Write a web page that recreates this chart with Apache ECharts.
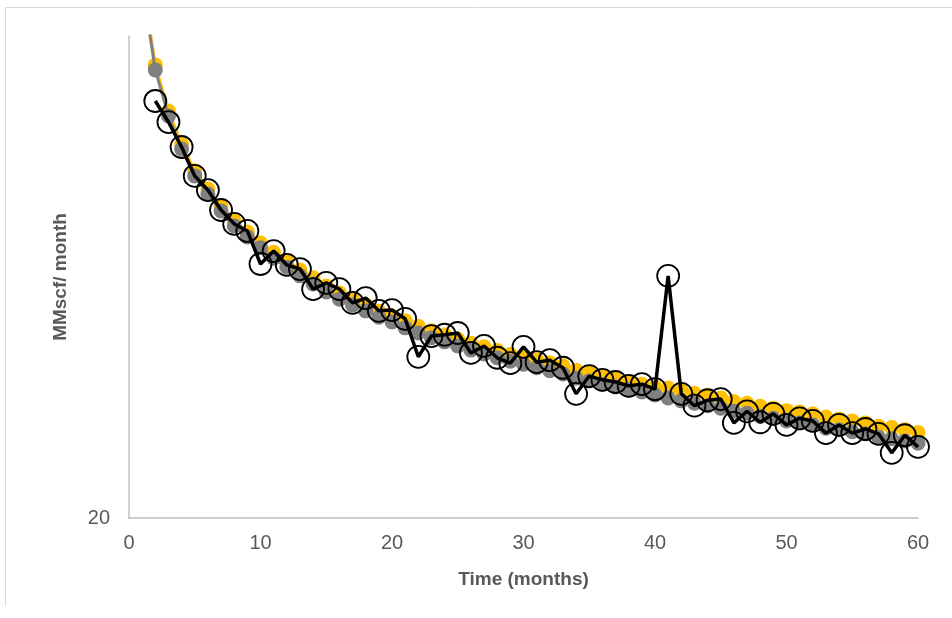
<!DOCTYPE html>
<html>
<head>
<meta charset="utf-8">
<script src="https://cdn.jsdelivr.net/npm/echarts@6/dist/echarts.min.js"></script>
<style>
html,body{margin:0;padding:0;background:#fff;}
#chart{width:952px;height:618px;}
</style>
</head>
<body>
<div id="chart"></div>
<script>
var months = [];
for (var i = 1; i <= 60; i++) months.push(i);

var fitHigh = [261, 174.2, 139.8, 119.4, 105.0, 96.3, 88.8, 82.6, 78.4, 74.4,
  71.2, 68.2, 65.4, 63.0, 60.6, 58.6, 56.9, 55.4, 53.7, 52.5,
  51.3, 50.0, 48.9, 48.0, 47.0, 46.1, 45.3, 44.5, 43.7, 43.1,
  42.6, 42.0, 41.4, 40.5, 40.0, 39.4, 38.9, 38.3, 37.9, 37.4,
  37.2, 36.7, 36.3, 35.9, 35.5, 34.9, 34.6, 34.1, 33.8, 33.4,
  33.2, 32.9, 32.4, 32.1, 31.8, 31.5, 31.0, 30.8, 30.5, 30.1];

var fitLow = [255, 170.1, 136.5, 116.6, 102.5, 94.0, 86.7, 80.7, 76.6, 72.7,
  69.2, 66.3, 63.6, 61.2, 58.9, 56.9, 55.3, 53.8, 52.2, 51.0,
  49.6, 48.4, 47.3, 46.4, 45.5, 44.6, 43.8, 43.0, 42.3, 41.7,
  41.0, 40.4, 39.8, 39.0, 38.5, 37.9, 37.4, 36.9, 36.5, 36.0,
  35.5, 35.0, 34.6, 34.2, 33.8, 33.3, 33.0, 32.5, 32.2, 31.8,
  31.5, 31.2, 30.7, 30.5, 30.2, 29.9, 29.4, 29.2, 28.9, 28.6];

var actual = [null, 146.6, 132.6, 117.7, 102.5, 95.8, 87.1, 81.5, 78.8, 67.3,
  71.6, 67.0, 65.7, 59.7, 61.5, 59.7, 55.9, 57.2, 53.8, 54.0,
  51.8, 43.2, 47.7, 48.0, 48.4, 44.0, 45.5, 43.0, 41.9, 45.3,
  42.1, 42.5, 41.0, 36.2, 39.4, 38.7, 38.3, 37.6, 37.9, 37.0,
  63.6, 36.2, 34.2, 35.1, 35.3, 31.5, 33.3, 31.6, 32.9, 31.2,
  32.2, 31.8, 30.0, 31.2, 30.0, 30.6, 29.9, 27.3, 29.7, 28.1];

var xTicks = [0, 10, 20, 30, 40, 50, 60];
var yTickLabels = [20];

function pairs(vals) {
  var out = [];
  for (var i = 0; i < months.length; i++) {
    if (vals[i] !== null) out.push([months[i], vals[i]]);
  }
  return out;
}

var FONT = '"Liberation Sans", Arial, sans-serif';
var chart = echarts.init(document.getElementById('chart'), null, {renderer: 'canvas'});
chart.setOption({
  backgroundColor: '#ffffff',
  animation: false,
  graphic: [
    {type: 'line', shape: {x1: 5.5, y1: 7.5, x2: 952, y2: 7.5}, style: {stroke: '#D9D9D9', lineWidth: 1}},
    {type: 'line', shape: {x1: 5.5, y1: 7.5, x2: 5.5, y2: 606}, style: {stroke: '#D9D9D9', lineWidth: 1}}
  ],
  grid: {left: 129, right: 34, top: 36, bottom: 100, containLabel: false},
  xAxis: {
    type: 'value', min: xTicks[0], max: xTicks[xTicks.length - 1], interval: 10,
    name: 'Time (months)', nameLocation: 'middle', nameGap: 52,
    nameTextStyle: {fontFamily: FONT, fontSize: 19, fontWeight: 'bold', color: '#595959'},
    axisLine: {show: true, lineStyle: {color: '#BFBFBF', width: 1.5}},
    axisTick: {show: false},
    splitLine: {show: false},
    axisLabel: {fontFamily: FONT, fontSize: 20, color: '#595959', margin: 15}
  },
  yAxis: {
    type: 'log', logBase: 10, min: 20, max: 200,
    name: 'MMscf/ month', nameLocation: 'middle', nameGap: 59, nameRotate: 90,
    nameTextStyle: {fontFamily: FONT, fontSize: 19, fontWeight: 'bold', color: '#595959'},
    axisLine: {show: true, lineStyle: {color: '#BFBFBF', width: 1.5}},
    axisTick: {show: false},
    splitLine: {show: false},
    axisLabel: {
      fontFamily: FONT, fontSize: 20, color: '#595959', margin: 19,
      showMinLabel: true, showMaxLabel: false,
      formatter: function (v) {
        for (var k = 0; k < yTickLabels.length; k++) {
          if (Math.abs(v - yTickLabels[k]) < 0.01) return String(yTickLabels[k]);
        }
        return '';
      }
    }
  },
  series: [
    {
      type: 'line', data: pairs(fitHigh), clip: true, z: 2,
      symbol: 'circle', symbolSize: 15, showAllSymbol: true,
      lineStyle: {color: '#FFC000', width: 3},
      itemStyle: {color: '#FFC000'}
    },
    {
      type: 'line', data: pairs(fitLow), clip: true, z: 3,
      symbol: 'circle', symbolSize: 15, showAllSymbol: true,
      lineStyle: {color: '#808080', width: 3},
      itemStyle: {color: '#808080'}
    },
    {
      type: 'line', data: pairs(actual), clip: true, z: 4,
      symbol: 'circle', symbolSize: 22, showAllSymbol: true,
      lineStyle: {color: '#000000', width: 3.5},
      itemStyle: {color: 'rgba(0,0,0,0)', borderColor: '#000000', borderWidth: 1.8}
    }
  ]
});
</script>
</body>
</html>
